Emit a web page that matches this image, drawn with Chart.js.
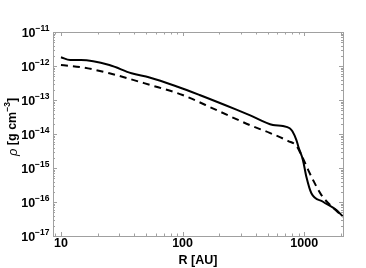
<!DOCTYPE html>
<html>
<head>
<meta charset="utf-8">
<script src="https://cdn.jsdelivr.net/npm/chart.js@4"></script>
<style>body{margin:0;background:#fff}</style>
</head>
<body>
<canvas id="rhoChart" width="366" height="268"></canvas>
<script>
// radius in AU, density in g cm^-3
const radiusSolid = [10, 11.9, 14.6, 25, 38, 53.5, 91, 138, 277, 356, 553, 668, 760, 800, 863, 900, 977, 1042, 1146, 1428, 1840, 2085];
const rhoSolid = [1.8e-12, 1.5e-12, 1.5e-12, 1.07e-12, 6.1e-13, 4.6e-13, 2.45e-13, 1.4e-13, 5.2e-14, 3.6e-14, 1.84e-14, 1.72e-14, 1.48e-14, 1.2e-14, 6.6e-15, 4e-15, 1.7e-15, 5.5e-16, 1.8e-16, 1.02e-16, 5.8e-17, 3.7e-17];
const radiusDashed = [10, 15.1, 25, 53.5, 100, 189, 356, 520, 740, 863, 948, 1075, 1180, 1386, 1840, 2085];
const rhoDashed = [1.07e-12, 9.1e-13, 6.1e-13, 2.8e-13, 1.4e-13, 5.1e-14, 1.84e-14, 1.08e-14, 6.2e-15, 4.5e-15, 2.4e-15, 9e-16, 4.5e-16, 1.6e-16, 5.5e-17, 3.8e-17];
const xTicks = [10, 100, 1000];
const yExponents = [-11, -12, -13, -14, -15, -16, -17];

const FONT = '"Liberation Sans", Arial, Helvetica, sans-serif';
const toPoints = (xs, ys) => xs.map((x, i) => ({ x: x, y: ys[i] }));

// box, inward ticks and the 10^n labels
const axisDecor = {
    id: 'axisDecor',
    afterDraw(chart) {
        const { ctx, chartArea: a, scales: { x, y } } = chart;
        ctx.save();
        ctx.strokeStyle = '#a0a0a0';
        ctx.lineWidth = 1;
        ctx.strokeRect(Math.round(a.left) + 0.5, Math.round(a.top) + 0.5, Math.round(a.right - a.left), Math.round(a.bottom - a.top));

        ctx.beginPath();
        for (let d = 0; d <= 3; d++) {
            for (let m = 1; m <= 9; m++) {
                const v = m * Math.pow(10, d);
                if (v < x.min || v > x.max) continue;
                const px = Math.round(x.getPixelForValue(v)) + 0.5;
                const len = m === 1 ? 4 : 2.5;
                ctx.moveTo(px, a.bottom); ctx.lineTo(px, a.bottom - len);
                ctx.moveTo(px, a.top); ctx.lineTo(px, a.top + len);
            }
        }
        for (let e = -18; e <= -11; e++) {
            for (let m = 1; m <= 9; m++) {
                const v = m * Math.pow(10, e);
                if (v < y.min * 0.999 || v > y.max * 1.001) continue;
                const py = Math.round(y.getPixelForValue(v)) + 0.5;
                const len = m === 1 ? 4 : 2;
                ctx.moveTo(a.left, py); ctx.lineTo(a.left + len, py);
                ctx.moveTo(a.right, py); ctx.lineTo(a.right - len, py);
            }
        }
        ctx.stroke();

        ctx.fillStyle = '#000';
        ctx.textBaseline = 'middle';
        ctx.textAlign = 'center';
        ctx.font = 'bold 12.5px ' + FONT;
        xTicks.forEach(v => ctx.fillText(String(v), x.getPixelForValue(v), 244));
        ctx.fillText('R [AU]', (a.left + a.right) / 2, 261);

        ctx.textAlign = 'right';
        yExponents.forEach(e => {
            const py = y.getPixelForValue(Math.pow(10, e));
            ctx.font = 'bold 8.5px ' + FONT;
            const sup = '\u2212' + Math.abs(e);
            ctx.fillText(sup, 49.5, py - 3);
            const w = ctx.measureText(sup).width;
            ctx.font = 'bold 12.5px ' + FONT;
            ctx.fillText('10', 49.5 - w, py + 1.5);
        });

        // y title: rho [g cm^-3]
        ctx.translate(13, (a.top + a.bottom) / 2 - 7);
        ctx.rotate(-Math.PI / 2);
        ctx.textAlign = 'left';
        const parts = [
            { t: '\u03c1', f: 'italic 13px ' + FONT, dy: 0 },
            { t: ' [g cm', f: 'bold 12.5px ' + FONT, dy: 0 },
            { t: '\u22123', f: 'bold 8.5px ' + FONT, dy: -5 },
            { t: ']', f: 'bold 12.5px ' + FONT, dy: 0 }
        ];
        let total = 0;
        parts.forEach(p => { ctx.font = p.f; p.w = ctx.measureText(p.t).width; total += p.w; });
        let cx = -total / 2;
        parts.forEach(p => { ctx.font = p.f; ctx.fillText(p.t, cx, p.dy); cx += p.w; });
        ctx.restore();
    }
};

new Chart(document.getElementById('rhoChart'), {
    type: 'line',
    data: {
        datasets: [{
            data: toPoints(radiusSolid, rhoSolid),
            borderColor: '#000',
            borderWidth: 2,
            pointRadius: 0,
            cubicInterpolationMode: 'monotone'
        }, {
            data: toPoints(radiusDashed, rhoDashed),
            borderColor: '#000',
            borderWidth: 2,
            borderDash: [7, 5],
            pointRadius: 0,
            cubicInterpolationMode: 'monotone'
        }]
    },
    options: {
        responsive: false,
        animation: false,
        layout: { padding: { top: 32, right: 23, left: 0, bottom: 0 } },
        plugins: { legend: { display: false }, tooltip: { enabled: false } },
        scales: {
            x: {
                type: 'logarithmic',
                min: 8.6,
                max: 2085,
                grid: { display: false },
                border: { display: false },
                ticks: { display: false },
                afterFit: s => { s.height = 32; }
            },
            y: {
                type: 'logarithmic',
                min: 1e-17,
                max: 1e-11,
                grid: { display: false },
                border: { display: false },
                ticks: { display: false },
                afterFit: s => { s.width = 53; }
            }
        }
    },
    plugins: [axisDecor]
});
</script>
</body>
</html>
